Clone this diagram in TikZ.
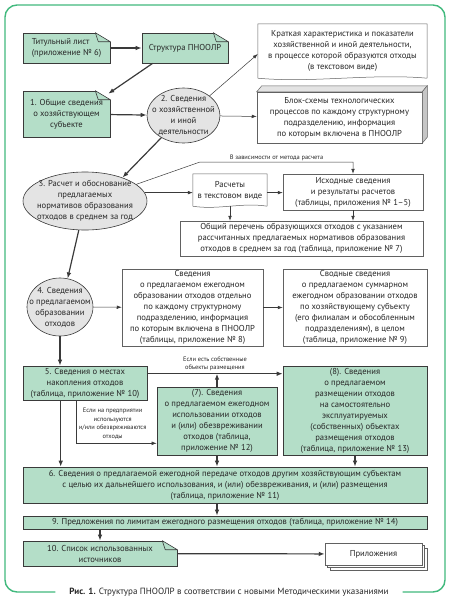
\documentclass[tikz,border=0pt]{standalone}
\usepackage{fontspec}
\setmainfont{PT Sans}
\usetikzlibrary{arrows.meta, positioning, shapes, calc, fit, shadows}

\definecolor{boxgreen}{HTML}{B4DEC8}
\definecolor{framegreen}{HTML}{41B97D}
\definecolor{ovalgray}{HTML}{E4E4E4}
\definecolor{linedark}{HTML}{3A3A3A}

\begin{document}
\begin{tikzpicture}[x=1pt, y=-1pt,
  every node/.style={font=\fontsize{8.6}{11}\selectfont, align=center, inner sep=1pt, text=black!85},
  greenbox/.style={draw=linedark, fill=boxgreen, rectangle, line width=0.6pt},
  whitebox/.style={draw=linedark!80, fill=white, rectangle, line width=0.5pt},
  plainbox/.style={rectangle},
  ovalbox/.style={draw=linedark, fill=ovalgray, ellipse, line width=0.6pt},
  outline/.style={draw=linedark!80, line width=0.5pt},
  notefold/.style={draw=linedark, fill=boxgreen, line width=0.6pt, line join=round},
  bigarrow/.style={-{Latex[length=6pt,width=4.6pt]}, line width=1.2pt, draw=linedark},
  thinarrow/.style={-{Latex[length=5pt,width=3.6pt]}, line width=0.5pt, draw=linedark},
  smalllabel/.style={font=\fontsize{6.4}{8.6}\selectfont}
]
  \useasboundingbox (0,0) rectangle (450,603);

  % blocks
  \node (titul) [greenbox, minimum width=87pt, minimum height=30pt, align=left] at (66.5,48)
  {Титульный лист\\(приложение № 6)};

  \node (struct) [greenbox, minimum width=86pt, minimum height=30pt] at (185,48)
  {Структура ПНООЛР};

  \node (kratk) [plainbox, minimum width=169pt, minimum height=54pt] at (342.5,51)
  {Краткая характеристика и показатели\\хозяйственной и иной деятельности,\\в процессе которой образуются отходы\\(в текстовом виде)};

  \node (obsh) [greenbox, minimum width=87pt, minimum height=46pt] at (66.5,114)
  {1. Общие сведения\\о хозяйствующем\\субъекте};

  \node (svhoz) [ovalbox, minimum width=73pt, minimum height=55pt, inner sep=-12pt,
    label={center:2. Сведения\\о хозяйственной\\и иной\\деятельности}] at (183.5,115.5) {};

  \node (blok) [whitebox, minimum width=165pt, minimum height=51pt] at (339.5,117.5)
  {Блок-схемы технологических\\процессов по каждому структурному\\подразделению, информация\\по которым включена в ПНООЛР};

  \node (ell3) [ovalbox, minimum width=124pt, minimum height=58pt, inner sep=-12pt,
    label={center:3. Расчет и обоснование\\предлагаемых\\нормативов образования\\отходов в среднем за год}] at (85,201) {};

  \node (rasch) [plainbox, minimum width=74pt, minimum height=32pt] at (230,190)
  {Расчеты\\в текстовом виде};

  \node (ishod) [whitebox, minimum width=140pt, minimum height=36pt] at (353,192)
  {Исходные сведения\\и результаты расчетов\\(таблицы, приложения № 1–5)};

  \node (obshper) [whitebox, minimum width=243pt, minimum height=35pt] at (301.5,238.5)
  {Общий перечень образующихся отходов с указанием\\рассчитанных предлагаемых нормативов образования\\отходов в среднем за год (таблица, приложение № 7)};

  \node (ell4) [ovalbox, minimum width=66pt, minimum height=58pt, inner sep=-12pt,
    label={center:4. Сведения\\о предлагаемом\\образовании\\отходов}] at (60,307) {};

  \node (sved8) [whitebox, minimum width=141pt, minimum height=77pt] at (192.5,307.5)
  {Сведения\\о предлагаемом ежегодном\\образовании отходов отдельно\\по каждому структурному\\подразделению, информация\\по которым включена в ПНООЛР\\(таблицы, приложение № 8)};

  \node (sved9) [whitebox, minimum width=144pt, minimum height=77pt] at (355,307.5)
  {Сводные сведения\\о предлагаемом суммарном\\ежегодном образовании отходов\\по хозяйствующему субъекту\\(его филиалам и обособленным\\подразделениям), в целом\\(таблица, приложение № 9)};

  \node (mest5) [greenbox, minimum width=124pt, minimum height=34pt] at (85,383)
  {5. Сведения о местах\\накопления отходов\\(таблица, приложение № 10)};

  \node (isp7) [greenbox, minimum width=120pt, minimum height=68pt] at (217,421)
  {(7). Сведения\\о предлагаемом ежегодном\\использовании отходов\\и (или) обезвреживании\\отходов (таблица,\\приложение № 12)};

  \node (razm8) [greenbox, minimum width=144pt, minimum height=89pt] at (355,410.5)
  {(8). Сведения\\о предлагаемом\\размещении отходов\\на самостоятельно\\эксплуатируемых\\(собственных) объектах\\размещения отходов\\(таблица, приложение № 13)};

  \node (pered6) [greenbox, minimum width=404pt, minimum height=36pt] at (225,485)
  {6. Сведения о предлагаемой ежегодной передаче отходов другим хозяйствующим субъектам\\с целью их дальнейшего использования, и (или) обезвреживания, и (или) размещения\\(таблица, приложение № 11)};

  \node (limit9) [greenbox, minimum width=404pt, minimum height=13pt] at (225,522.5)
  {9. Предложения по лимитам ежегодного размещения отходов (таблица, приложение № 14)};

  \node (spisok) [greenbox, minimum width=154pt, minimum height=25pt] at (100,553.5)
  {10. Список использованных\\источников};

  \node (prilozh) [whitebox, minimum width=97pt, minimum height=22pt,
    double copy shadow={shadow xshift=2.5pt, shadow yshift=-2.5pt}] at (373.5,554)
  {Приложения};

  % hand-drawn outlines
  \foreach \n in {titul, struct, obsh, spisok} {
    \fill[white] ([xshift=-15pt]\n.north east) -- ([shift={(-15pt,0.8pt)}]\n.north east)
      -- ([shift={(0.8pt,0.8pt)}]\n.north east) -- ([shift={(0.8pt,-9pt)}]\n.north east)
      -- ([yshift=-9pt]\n.north east) -- cycle;
    \draw[notefold] ([xshift=-15pt]\n.north east) -- ([shift={(-12pt,-9pt)}]\n.north east)
      -- ([yshift=-9pt]\n.north east) -- cycle;
  }

  \draw[outline] (kratk.south east) -- (kratk.north east) -- (kratk.north west) -- (kratk.south west)
    .. controls +(56,5) and +(-56,-5) .. (kratk.south east);
  \draw[outline] (rasch.south east) -- (rasch.north east) -- (rasch.north west) -- (rasch.south west)
    .. controls +(25,4) and +(-25,-4) .. (rasch.south east);

  \filldraw[outline, fill=gray!22] (blok.north west) -- ++(5,-6) -- ([shift={(5pt,6pt)}]blok.north east)
    -- (blok.north east) -- cycle;
  \filldraw[outline, fill=gray!45] (blok.north east) -- ++(5,-6) -- ([shift={(5pt,6pt)}]blok.south east)
    -- (blok.south east) -- cycle;

  % arrows
  \draw[bigarrow] (titul) -- (struct);
  \draw[bigarrow] ([xshift=11pt]struct.south west) -- ([shift={(-2pt,-3pt)}]obsh.north east);
  \draw[bigarrow] (obsh) -- (svhoz);
  \draw[thinarrow] (svhoz.37) -- ([yshift=-3pt]kratk.west);
  \draw[thinarrow] (svhoz) -- (blok);
  \draw[bigarrow] (svhoz.225) -- (ell3.32);

  \draw[thinarrow] (ell3.8) -- (ell3.8 -| rasch.west);
  \draw[thinarrow] (ell3.8 -| rasch.east) -- (ell3.8 -| ishod.west);
  \coordinate (bend) at (200,162);
  \draw[thinarrow] (ell3.18) -- (bend) -- (bend -| ishod.north)
    node[midway, above, smalllabel] {В зависимости от метода расчета} -- (ishod.north);
  \draw[thinarrow] (rasch.south) -- (rasch.south |- obshper.north);
  \draw[thinarrow] (ishod.south) -- (ishod.south |- obshper.north);

  \draw[bigarrow] (ell3.258) -- (ell4.75);
  \draw[thinarrow] (ell4) -- (sved8);
  \draw[thinarrow] (sved8) -- (sved9);
  \draw[bigarrow] (ell4.south) -- (ell4.south |- mest5.north);

  \coordinate (m5r) at ([yshift=-8pt]mest5.north east);
  \draw[bigarrow] (m5r) -- (m5r -| razm8.west)
    node[midway, above=1pt, smalllabel] {Если есть собственные\\объекты размещения};
  \draw[bigarrow] (isp7.north) -- (isp7.north |- m5r);

  \coordinate (m5b) at ([xshift=54pt]mest5.south west);
  \coordinate (i7l) at ([yshift=12pt]isp7.south west);
  \draw[thinarrow] (m5b) |- (i7l)
    node[pos=0.27, right=1pt, smalllabel] {Если на предприятии\\используются\\и/или обезвреживаются\\отходы};

  \coordinate (m5l) at ([xshift=38pt]mest5.south west);
  \draw[bigarrow] (m5l) -- (m5l |- pered6.north);
  \draw[bigarrow] (isp7.south) -- (isp7.south |- pered6.north);
  \draw[bigarrow] (razm8.south) -- (razm8.south |- pered6.north);
  \draw[bigarrow] (isp7.south |- pered6.south) -- (isp7.south |- limit9.north);
  \draw[bigarrow] (spisok.north |- limit9.south) -- (spisok.north);
  \draw[bigarrow] (spisok) -- (prilozh);

  % frame and caption
  \node (capt) [inner xsep=14pt, font=\fontsize{9}{11}\selectfont] at (229,592)
  {\textbf{Рис. 1.} Структура ПНООЛР в соответствии с новыми Методическими указаниями};
  \draw[framegreen, line width=1.4pt, rounded corners=12pt] (capt.west) -| (5,5) -| (445,592) -- (capt.east);

\end{tikzpicture}
\end{document}
